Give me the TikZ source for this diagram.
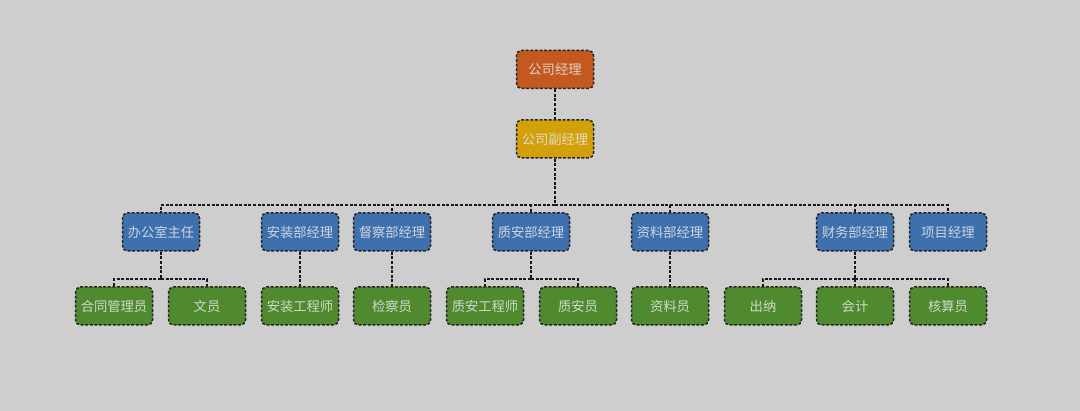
\documentclass[tikz,border=0pt]{standalone}
\usepackage{fontspec}
\newfontfamily\cjk{Noto Sans CJK SC}
\definecolor{bg}{HTML}{CECECE}
\definecolor{cOrange}{HTML}{C4591F}
\definecolor{cGold}{HTML}{D2A008}
\definecolor{cBlue}{HTML}{3E70AE}
\definecolor{cGreen}{HTML}{4F8A2F}
\definecolor{cText}{HTML}{E6E6E6}
\tikzset{
  box/.style={draw=black!85, line width=1.5pt, dash pattern=on 3pt off 1.6pt,
    rounded corners=5pt, minimum width=77pt, minimum height=38pt, inner sep=0pt,
    text=cText, text opacity=0.85, font=\cjk\fontsize{13.3}{15}\selectfont},
  topbox/.style={box, fill=cOrange},
  vicebox/.style={box, fill=cGold},
  deptbox/.style={box, fill=cBlue},
  staffbox/.style={box, fill=cGreen},
  link/.style={draw=black!90, line width=1.3pt, dash pattern=on 3pt off 1.6pt}
}
\begin{document}
\begin{tikzpicture}[x=1pt,y=-1pt]
\fill[bg] (0,0) rectangle (1080,411);
\useasboundingbox (0,0) rectangle (1080,411);
% nodes
\node[topbox] (gm) at (555,69.5) {公司经理};
\node[vicebox] (vgm) at (555,139) {公司副经理};
\node[deptbox] (d1) at (161,232) {办公室主任};
\node[deptbox] (d2) at (300,232) {安装部经理};
\node[deptbox] (d3) at (392,232) {督察部经理};
\node[deptbox] (d4) at (531,232) {质安部经理};
\node[deptbox] (d5) at (670,232) {资料部经理};
\node[deptbox] (d6) at (855,232) {财务部经理};
\node[deptbox] (d7) at (948,232) {项目经理};
\node[staffbox] (s1) at (114,306) {合同管理员};
\node[staffbox] (s2) at (207,306) {文员};
\node[staffbox] (s3) at (300,306) {安装工程师};
\node[staffbox] (s4) at (392,306) {检察员};
\node[staffbox] (s5) at (485,306) {质安工程师};
\node[staffbox] (s6) at (578,306) {质安员};
\node[staffbox] (s7) at (670,306) {资料员};
\node[staffbox] (s8) at (763,306) {出纳};
\node[staffbox] (s9) at (855,306) {会计};
\node[staffbox] (s10) at (948,306) {核算员};
% bus coordinates
\coordinate (bus) at (555,205);
\coordinate (b1) at (161,279);
\coordinate (b4) at (531,279);
\coordinate (b6) at (855,279);
% connectors
\draw[link] (gm) -- (vgm);
\draw[link] (vgm) -- (bus);
\foreach \d in {d1,d2,d3,d4,d5,d6,d7} {\draw[link] (bus) -| (\d.north);}
\draw[link] (d1) -- (b1);
\draw[link] (b1) -| (s1.north);
\draw[link] (b1) -| (s2.north);
\draw[link] (d2) -- (s3);
\draw[link] (d3) -- (s4);
\draw[link] (d4) -- (b4);
\draw[link] (b4) -| (s5.north);
\draw[link] (b4) -| (s6.north);
\draw[link] (d5) -- (s7);
\draw[link] (d6) -- (b6);
\draw[link] (b6) -| (s8.north);
\draw[link] (b6) -| (s9.north);
\draw[link] (b6) -| (s10.north);
\end{tikzpicture}
\end{document}
